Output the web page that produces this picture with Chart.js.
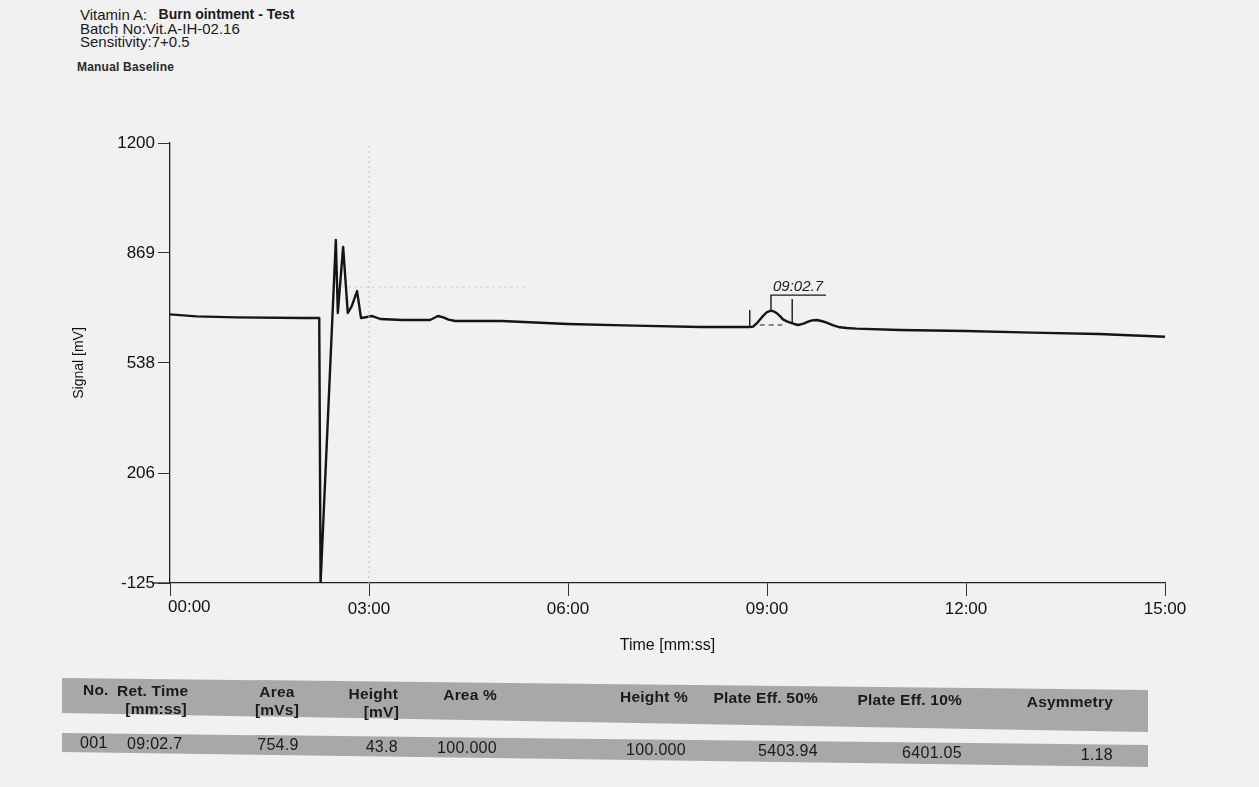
<!DOCTYPE html>
<html>
<head>
<meta charset="utf-8">
<script src="https://cdn.jsdelivr.net/npm/chart.js@4.4.0/dist/chart.umd.min.js"></script>
<style>
    html, body { margin: 0; padding: 0; }
    body {
        width: 1259px; height: 787px; overflow: hidden; position: relative;
        background: #f1f1f1; font-family: "Liberation Sans", Arial, sans-serif; color: #1a1a1a;
    }
    #chart { position: absolute; left: 0; top: 0; }
    #bands { position: absolute; left: 0; top: 0; }
    .hdr { position: absolute; left: 80px; font-size: 15px; line-height: 14px; white-space: nowrap; }
    .hdr b { font-size: 14px; position: relative; top: -1px; margin-left: 3px; }
    .small { font-size: 12px; font-weight: bold; line-height: 12px; left: 77px; color: #2a2a2a; letter-spacing: 0.2px; }
    .cell { position: absolute; font-size: 16px; line-height: 17px; white-space: nowrap; letter-spacing: 0.3px; }
    .th { font-weight: bold; font-size: 15.5px; letter-spacing: 0.2px; }
    .r { text-align: right; }
    .c { text-align: center; }
</style>
</head>
<body>

<div class="hdr" style="top:8px">Vitamin A:&nbsp; <b>Burn ointment - Test</b></div>
<div class="hdr" style="top:22px">Batch No:Vit.A-IH-02.16</div>
<div class="hdr" style="top:35px">Sensitivity:7+0.5</div>
<div class="hdr small" style="top:61px">Manual Baseline</div>

<canvas id="chart" width="1259" height="787"></canvas>

<svg id="bands" width="1259" height="787">
    <polygon points="62,678 1148,690 1148,732 62,713" fill="#a8a8a8"/>
    <polygon points="62,733 1148,745 1148,767 62,752" fill="#a8a8a8"/>
</svg>
<div id="table"></div>

<script>
// =========================
// Chromatogram data
// =========================

// retention time [min] and signal [mV]
const times = [0, 0.4, 1.0, 2.0, 2.25, 2.27, 2.50, 2.53, 2.61, 2.68, 2.74, 2.82, 2.88, 2.97, 3.05, 3.17,
    3.5, 3.92, 3.98, 4.04, 4.12, 4.20, 4.30,
    5.0, 6.0, 7.0, 8.0, 8.5, 8.74, 8.79, 8.86, 8.93, 9.0, 9.06, 9.11, 9.15, 9.20, 9.24, 9.30, 9.35, 9.41, 9.47,
    9.55, 9.62, 9.68, 9.75, 9.82, 9.90, 10.0, 10.10, 10.2, 10.35,
    11.0, 12.0, 13.0, 14.0, 15.05];
const signal = [684, 678, 675, 673, 673, -125, 908, 688, 887, 688, 709, 754, 673, 676, 679, 670,
    667, 667, 673, 679, 675, 668, 664,
    664, 655, 650, 646, 646, 646, 647, 660, 677, 691, 695, 692, 687, 678, 669, 663, 659, 655, 652,
    656, 662, 666, 667, 664, 659, 651, 645, 643, 641,
    637, 634, 629, 625, 616];

// axis ticks
const xTickValues = [0, 3, 6, 9, 12, 15];
const yTickValues = [-125, 206, 538, 869, 1200];

// peak integration marks (start, end) and apex label
const peakStart = { t: 8.74, low: 649, high: 697 };
const peakEnd = { t: 9.38, low: 658, high: 730 };
const apexTime = 9.06;
const apexSignal = 695;
const labelLevel = 742;
const labelEndTime = 9.89;
const baselineTimes = [8.89, 9.23];
const baselineLevel = 652;
const retTimeLabel = '09:02.7';

// faint dotted cursor lines on the print
const cursorTime = 3;
const cursorLevel = 766;
const cursorLevelTimes = [2.6, 5.4];

// peak table
const tableHeaders = [['No.', ''], ['Ret. Time', '[mm:ss]'], ['Area', '[mVs]'], ['Height', '[mV]'], ['Area %', ''],
    ['Height %', ''], ['Plate Eff. 50%', ''], ['Plate Eff. 10%', ''], ['Asymmetry', '']];
const tableRow = ['001', '09:02.7', '754.9', '43.8', '100.000', '100.000', '5403.94', '6401.05', '1.18'];

const FONT = '"Liberation Sans", Arial, sans-serif';

function fmtTime(v) {
    const m = Math.floor(v);
    const s = Math.round((v - m) * 60);
    return String(m).padStart(2, '0') + ':' + String(s).padStart(2, '0');
}

function seg(xs, ys) {
    return xs.map((x, i) => ({ x: x, y: ys[i] }));
}

function lineSet(data, opts) {
    return Object.assign({
        data: data, borderColor: '#1a1a1a', borderWidth: 1.4, pointRadius: 0, tension: 0, fill: false
    }, opts || {});
}

// retention time label above the apex marker, first time label
// left-aligned at its tick, and the x axis line running a bit past the y axis
const extras = {
    id: 'extras',
    afterDatasetsDraw(chart) {
        const { ctx, scales: { x, y } } = chart;
        ctx.save();
        ctx.font = 'italic 15px ' + FONT;
        ctx.fillStyle = '#1a1a1a';
        ctx.textBaseline = 'bottom';
        ctx.textAlign = 'left';
        ctx.fillText(retTimeLabel, x.getPixelForValue(apexTime) + 2, y.getPixelForValue(labelLevel) - 1);

        ctx.font = '17px ' + FONT;
        ctx.fillStyle = '#111';
        ctx.textBaseline = 'top';
        ctx.fillText(fmtTime(xTickValues[0]), x.getPixelForValue(xTickValues[0]) - 2, x.top + 16);

        ctx.strokeStyle = '#222';
        ctx.lineWidth = 1.3;
        ctx.beginPath();
        ctx.moveTo(x.left - 18, x.top);
        ctx.lineTo(x.left, x.top);
        ctx.stroke();
        ctx.restore();
    }
};

new Chart(document.getElementById('chart'), {
    type: 'line',
    data: {
        datasets: [
            lineSet(seg([cursorTime, cursorTime], [-125, 1200]), { borderColor: '#c2c2c2', borderWidth: 1, borderDash: [2, 3] }),
            lineSet(seg(cursorLevelTimes, [cursorLevel, cursorLevel]), { borderColor: '#cacaca', borderWidth: 1, borderDash: [2, 4] }),
            lineSet(seg(times, signal), { borderColor: '#151515', borderWidth: 2.4, borderJoinStyle: 'round' }),
            lineSet(seg([peakStart.t, peakStart.t], [peakStart.low, peakStart.high])),
            lineSet(seg([peakEnd.t, peakEnd.t], [peakEnd.low, peakEnd.high])),
            lineSet(seg([apexTime, apexTime, labelEndTime], [apexSignal, labelLevel, labelLevel])),
            lineSet(seg(baselineTimes, [baselineLevel, baselineLevel]), { borderDash: [5, 4], borderWidth: 1 })
        ]
    },
    options: {
        responsive: false,
        animation: false,
        layout: { padding: { left: 0, top: 143, right: 94, bottom: 124 } },
        plugins: {
            legend: { display: false },
            tooltip: { enabled: false }
        },
        scales: {
            x: {
                type: 'linear',
                min: 0,
                max: 15,
                afterBuildTicks: s => { s.ticks = xTickValues.map(v => ({ value: v })); },
                afterFit: s => { s.height = 80; },
                grid: { drawOnChartArea: false, drawTicks: true, tickLength: 13, color: '#333', tickColor: '#333' },
                border: { color: '#222', width: 1.3 },
                ticks: {
                    callback: v => (v === xTickValues[0] ? '' : fmtTime(v)),
                    autoSkip: false, maxRotation: 0, padding: 3,
                    color: '#111', font: { family: FONT, size: 17 }
                },
                title: {
                    display: true, text: 'Time [mm:ss]', color: '#111',
                    font: { family: FONT, size: 16 }, padding: { top: 0, bottom: 8 }
                }
            },
            y: {
                type: 'linear',
                min: -125,
                max: 1200,
                afterBuildTicks: s => { s.ticks = yTickValues.map(v => ({ value: v })); },
                afterFit: s => { s.width = 170; },
                grid: { drawOnChartArea: false, drawTicks: true, tickLength: 12, color: '#333', tickColor: '#333' },
                border: { color: '#222', width: 1.3 },
                ticks: {
                    callback: v => String(v),
                    autoSkip: false, padding: 3,
                    color: '#111', font: { family: FONT, size: 17 }
                },
                title: {
                    display: true, text: 'Signal [mV]', color: '#111',
                    font: { family: FONT, size: 14 }, padding: { top: 71, bottom: 0 }
                }
            }
        }
    },
    plugins: [extras]
});

// =========================
// Peak table (scanned page is slightly tilted)
// =========================
const tilt = 0.011;
const colPos = [
    { x: 83, a: 'l' }, { x: 117, a: 'l', x2: 187 }, { x: 277, a: 'c' }, { x: 398, a: 'r' }, { x: 497, a: 'r' },
    { x: 688, a: 'r' }, { x: 818, a: 'r' }, { x: 962, a: 'r' }, { x: 1113, a: 'r' }
];
const valPos = [80, 127, 278, 398, 497, 686, 818, 962, 1113];

function addCell(parent, text, x, top, align, bold) {
    const d = document.createElement('div');
    d.className = 'cell' + (bold ? ' th' : '');
    d.textContent = text;
    d.style.top = (top + (x - 62) * tilt) + 'px';
    if (align === 'l') {
        d.style.left = x + 'px';
    } else if (align === 'r') {
        d.style.left = (x - 200) + 'px';
        d.style.width = '200px';
        d.classList.add('r');
    } else {
        d.style.left = (x - 100) + 'px';
        d.style.width = '200px';
        d.classList.add('c');
    }
    parent.appendChild(d);
}

const table = document.getElementById('table');

tableHeaders.forEach((h, i) => {
    const c = colPos[i];
    addCell(table, h[0], c.x, 681, c.a, true);
    if (h[1]) {
        if (c.x2) addCell(table, h[1], c.x2, 699, 'r', true);
        else addCell(table, h[1], c.a === 'c' ? c.x : c.x + 1, 699, c.a, true);
    }
});

tableRow.forEach((v, i) => {
    const a = i < 2 ? 'l' : (i === 2 ? 'c' : 'r');
    addCell(table, v, valPos[i], 734, a, false);
});
</script>
</body>
</html>
